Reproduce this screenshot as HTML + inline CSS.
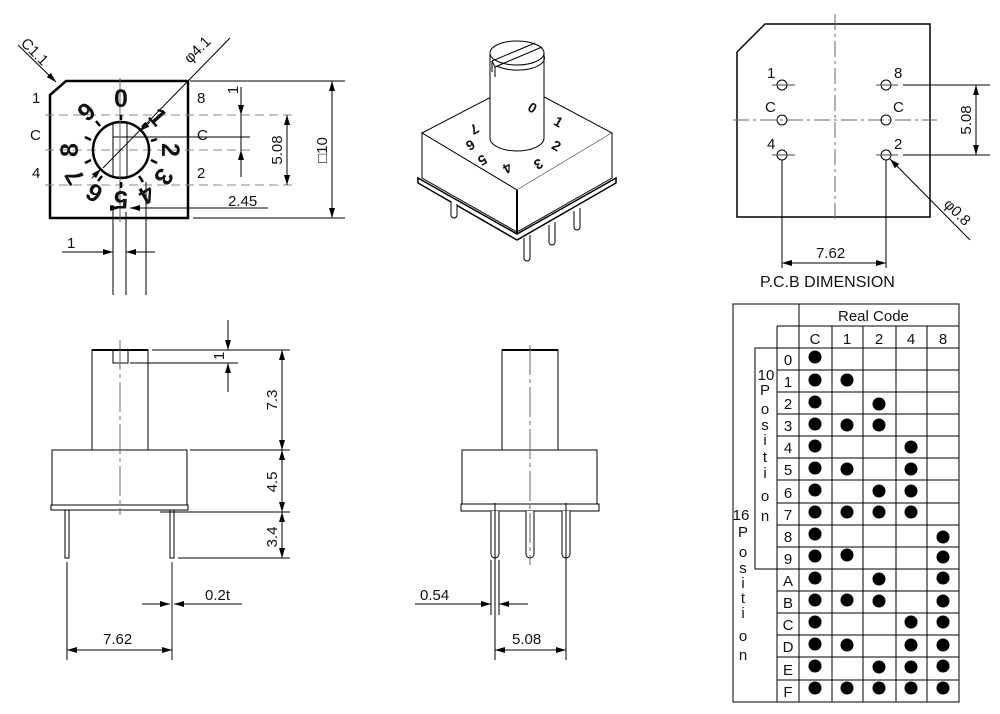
<!DOCTYPE html>
<html><head><meta charset="utf-8"><style>
html,body{margin:0;padding:0;background:#fff}
svg{display:block}
text{font-family:"Liberation Sans",sans-serif;fill:#111}
</style></head><body>
<svg width="1000" height="714" viewBox="0 0 1000 714" xmlns="http://www.w3.org/2000/svg">
<defs>
<marker id="a" viewBox="0 0 10 6" refX="10" refY="3" markerWidth="10" markerHeight="6" orient="auto-start-reverse" markerUnits="userSpaceOnUse"><path d="M0,0 L10,3 L0,6z" fill="#000"/></marker>
</defs>
<g fill="none" stroke="#000" stroke-width="1">
<!-- TOP VIEW -->
<path d="M66,81 L188,81 L188,218 L50,218 L50,95 Z" stroke-width="2.5"/>
<g stroke="#888" stroke-dasharray="9,5"><line x1="45" y1="115" x2="296" y2="115"/><line x1="45" y1="150" x2="250" y2="150"/><line x1="45" y1="185" x2="296" y2="185"/></g>
<line x1="127" y1="137" x2="250" y2="137"/>
<circle cx="121" cy="150" r="28" stroke-width="2.5"/>
<rect x="113" y="123" width="14" height="54"/>
<line x1="113" y1="137" x2="127" y2="137"/>
<line x1="120" y1="78" x2="120" y2="222" stroke="#666"/>
<line x1="230" y1="38" x2="103" y2="168"/>
<line x1="150" y1="122" x2="140" y2="131" marker-end="url(#a)"/>
<line x1="92" y1="178" x2="101" y2="169" marker-end="url(#a)"/>
<line x1="18" y1="45" x2="56" y2="82" marker-end="url(#a)"/>
<g stroke-width="2.5">
<line x1="121" y1="115" x2="121" y2="120"/><line x1="142" y1="127" x2="146" y2="123"/><line x1="151" y1="141" x2="157" y2="139"/><line x1="151" y1="160" x2="157" y2="163"/><line x1="139" y1="176" x2="143" y2="182"/><line x1="121" y1="182" x2="121" y2="188"/><line x1="102" y1="176" x2="98" y2="181"/><line x1="91" y1="160" x2="85" y2="163"/><line x1="91" y1="140" x2="85" y2="137"/><line x1="100" y1="126" x2="96" y2="121"/>
</g>
<line x1="190" y1="81" x2="345" y2="81"/><line x1="193" y1="218" x2="345" y2="218"/>
<line x1="332" y1="81" x2="332" y2="218" marker-start="url(#a)" marker-end="url(#a)"/>
<line x1="287" y1="115" x2="287" y2="185" marker-start="url(#a)" marker-end="url(#a)"/>
<line x1="241" y1="87" x2="241" y2="115" marker-end="url(#a)"/>
<line x1="241" y1="177" x2="241" y2="150" marker-end="url(#a)"/>
<line x1="241" y1="115" x2="241" y2="150"/>
<line x1="146" y1="208" x2="268" y2="208"/>
<line x1="110" y1="208" x2="120" y2="208" marker-end="url(#a)"/>
<line x1="130" y1="208" x2="146" y2="208" marker-start="url(#a)"/>
<line x1="113" y1="205" x2="113" y2="295"/><line x1="126" y1="212" x2="126" y2="295"/><line x1="146" y1="182" x2="146" y2="295"/>
<line x1="62" y1="252" x2="113" y2="252" marker-end="url(#a)"/>
<line x1="155" y1="252" x2="126" y2="252" marker-end="url(#a)"/>

<!-- 3D VIEW -->
<path d="M422,133 L518,83 L612,133 L517,190 Z" fill="#fff"/>
<path d="M422,133 L422,178 L517,232 L517,190 Z" fill="#fff"/>
<path d="M612,133 L612,178 L517,232 L517,190" fill="#fff"/>
<path d="M418,178 L517,234 L616,178 L616,183 L517,240 L418,183 Z" fill="#fff" stroke-width="1.5"/>
<line x1="517" y1="190" x2="517" y2="234" stroke-width="2"/>
<g fill="#fff"><path d="M451,201 v14 a3,3 0 0 0 6,0 v-11"/><path d="M524,238 v20 a3,3 0 0 0 6,0 v-23"/><path d="M549,225 v17 a3,3 0 0 0 6,0 v-20"/><path d="M574,211 v16 a3,3 0 0 0 6,0 v-19"/></g>
<path d="M490,53 L490,138 A27,13 0 0 0 544,138 L544,53" fill="#fff"/>
<ellipse cx="517" cy="53" rx="27" ry="12" fill="#fff"/>
<path d="M492,61 L535,43 M495,67 L542,47 M492,61 L495,67 M495,67 L495,77 M492,61 L492,72" />
<path d="M497,66 A27,12 0 0 0 544,56"/>

<!-- PCB VIEW -->
<path d="M765,24 L930,24 L930,217 L737,217 L737,52 Z" stroke-width="1.5"/>
<line x1="835" y1="14" x2="835" y2="222" stroke="#666" stroke-dasharray="16,4,3,4"/>
<line x1="733" y1="120" x2="937" y2="120" stroke="#666" stroke-dasharray="16,4,3,4"/>
<g><circle cx="782" cy="85" r="5"/><circle cx="782" cy="120" r="5"/><circle cx="782" cy="155" r="5"/><circle cx="886" cy="85" r="5"/><circle cx="886" cy="120" r="5"/><circle cx="886" cy="155" r="5"/></g>
<g stroke="#444"><line x1="772" y1="85" x2="795" y2="85"/><line x1="772" y1="155" x2="795" y2="155"/><line x1="876" y1="85" x2="898" y2="85"/><line x1="876" y1="155" x2="898" y2="155"/></g>
<line x1="903" y1="85" x2="990" y2="85"/><line x1="903" y1="155" x2="990" y2="155"/>
<line x1="976" y1="85" x2="976" y2="155" marker-start="url(#a)" marker-end="url(#a)"/>
<line x1="970" y1="240" x2="890" y2="159" marker-end="url(#a)"/>
<line x1="782" y1="160" x2="782" y2="268"/><line x1="886" y1="160" x2="886" y2="268"/>
<line x1="782" y1="263" x2="886" y2="263" marker-start="url(#a)" marker-end="url(#a)"/>

<!-- SIDE VIEW LEFT -->
<path d="M92,450 L92,350 L113,350 L113,363 L128,363 L128,350 L148,350 L148,450" fill="#fff"/>
<line x1="92" y1="350" x2="148" y2="350" stroke-width="2"/>
<rect x="52" y="450" width="135" height="55"/>
<rect x="51" y="505" width="137" height="5"/>
<rect x="65" y="510" width="4" height="48"/><rect x="170" y="510" width="4" height="48"/>
<line x1="120" y1="340" x2="120" y2="515" stroke="#666" stroke-dasharray="30,4,4,4"/>
<line x1="152" y1="350" x2="290" y2="350"/><line x1="190" y1="450" x2="290" y2="450"/><line x1="160" y1="512" x2="290" y2="512"/><line x1="178" y1="558" x2="290" y2="558"/>
<line x1="130" y1="363" x2="238" y2="363"/>
<line x1="282" y1="350" x2="282" y2="450" marker-start="url(#a)" marker-end="url(#a)"/>
<line x1="282" y1="450" x2="282" y2="512" marker-start="url(#a)" marker-end="url(#a)"/>
<line x1="282" y1="512" x2="282" y2="558" marker-start="url(#a)" marker-end="url(#a)"/>
<line x1="228" y1="320" x2="228" y2="350" marker-end="url(#a)"/>
<line x1="228" y1="392" x2="228" y2="363" marker-end="url(#a)"/>
<line x1="67" y1="562" x2="67" y2="660"/><line x1="172" y1="562" x2="172" y2="660" stroke="#888" stroke-width="2"/>
<line x1="67" y1="650" x2="172" y2="650" marker-start="url(#a)" marker-end="url(#a)"/>
<line x1="142" y1="604" x2="170" y2="604" marker-end="url(#a)"/>
<line x1="242" y1="604" x2="174" y2="604" marker-end="url(#a)"/>

<!-- SIDE VIEW MIDDLE -->
<rect x="502" y="350" width="56" height="100"/>
<line x1="502" y1="350" x2="558" y2="350" stroke-width="2"/>
<rect x="462" y="450" width="135" height="54"/>
<rect x="461" y="504" width="138" height="7"/>
<g fill="#fff"><path d="M491,511 v43 a4,4 0 0 0 8,0 v-43"/><path d="M526,511 v43 a4,4 0 0 0 8,0 v-43"/><path d="M562,511 v43 a4,4 0 0 0 8,0 v-43"/></g>
<line x1="530" y1="345" x2="530" y2="565" stroke="#666" stroke-dasharray="30,4,4,4"/>
<line x1="491" y1="560" x2="491" y2="615"/><line x1="499" y1="560" x2="499" y2="615"/>
<line x1="495" y1="503" x2="495" y2="660"/><line x1="566" y1="503" x2="566" y2="660"/>
<line x1="415" y1="604" x2="491" y2="604" marker-end="url(#a)"/>
<line x1="528" y1="604" x2="499" y2="604" marker-end="url(#a)"/>
<line x1="495" y1="650" x2="566" y2="650" marker-start="url(#a)" marker-end="url(#a)"/>

<!-- TABLE -->
<rect x="733" y="304" width="226" height="398"/>
<line x1="799" y1="304" x2="799" y2="702"/>
<line x1="777" y1="326" x2="777" y2="702"/>
<line x1="799" y1="326" x2="959" y2="326"/>
<line x1="777" y1="348" x2="959" y2="348"/>
<line x1="832" y1="326" x2="832" y2="702"/><line x1="863" y1="326" x2="863" y2="702"/><line x1="896" y1="326" x2="896" y2="702"/><line x1="927" y1="326" x2="927" y2="702"/>
<line x1="777" y1="326" x2="799" y2="326"/>
<path d="M777,348 L755,348 L755,569 L777,569"/>
</g>

<!-- TEXT -->
<g font-size="15">
<text x="32" y="103">1</text><text x="30" y="140">C</text><text x="32" y="178">4</text>
<text x="197" y="103">8</text><text x="197" y="140">C</text><text x="197" y="178">2</text>
<text x="228" y="206">2.45</text>
<text x="67" y="248">1</text>
<text transform="translate(20,44) rotate(45)">C1.1</text>
<text transform="translate(190,64) rotate(-45)">φ4.1</text>
<text transform="translate(238,90) rotate(-90)" text-anchor="middle">1</text>
<text transform="translate(282,150) rotate(-90)" text-anchor="middle">5.08</text>
<text transform="translate(327,150) rotate(-90)" text-anchor="middle">□10</text>
</g>
<g font-size="25" font-weight="bold" text-anchor="middle" fill="#111">
<text transform="translate(121,150) rotate(0) translate(0,-52)" y="9">0</text>
<text transform="translate(121,150) rotate(48) translate(0,-50)" y="9">1</text>
<text transform="translate(121,150) rotate(90) translate(0,-50)" y="9">2</text>
<text transform="translate(121,150) rotate(122) translate(0,-51)" y="9">3</text>
<text transform="translate(121,150) rotate(150) translate(0,-52)" y="9">4</text>
<text transform="translate(121,150) rotate(180) translate(0,-50)" y="9">5</text>
<text transform="translate(121,150) rotate(212) translate(0,-51)" y="9">6</text>
<text transform="translate(121,150) rotate(240) translate(0,-54)" y="9">7</text>
<text transform="translate(121,150) rotate(270) translate(0,-52)" y="9">8</text>
<text transform="translate(121,150) rotate(318) translate(0,-52)" y="9">9</text>
</g>
<g font-size="14" font-weight="bold" text-anchor="middle">
<text transform="translate(530,112) rotate(30)">0</text>
<text transform="translate(556,126) rotate(30)">1</text>
<text transform="translate(554,150) rotate(30)">2</text>
<text transform="translate(536,160) rotate(150)">3</text>
<text transform="translate(505,164) rotate(150)">4</text>
<text transform="translate(480,156) rotate(150)">5</text>
<text transform="translate(468,141) rotate(150)">6</text>
<text transform="translate(472,125) rotate(150)">7</text>
</g>
<g font-size="15">
<text x="767" y="78">1</text><text x="765" y="112">C</text><text x="767" y="149">4</text>
<text x="894" y="78">8</text><text x="893" y="112">C</text><text x="894" y="149">2</text>
<text transform="translate(971,120) rotate(-90)" text-anchor="middle">5.08</text>
<text transform="translate(943,205) rotate(45)">φ0.8</text>
<text x="816" y="258">7.62</text>
<text x="760" y="287" font-size="16">P.C.B DIMENSION</text>
<text transform="translate(224,356) rotate(-90)" text-anchor="middle">1</text>
<text transform="translate(277,400) rotate(-90)" text-anchor="middle">7.3</text>
<text transform="translate(277,482) rotate(-90)" text-anchor="middle">4.5</text>
<text transform="translate(277,537) rotate(-90)" text-anchor="middle">3.4</text>
<text x="205" y="600">0.2t</text>
<text x="103" y="644">7.62</text>
<text x="420" y="600">0.54</text>
<text x="512" y="644">5.08</text>
<text x="838" y="321" font-size="15">Real Code</text>
</g>
<g font-size="15" text-anchor="middle">
<text x="815" y="344">C</text><text x="847" y="344">1</text><text x="879" y="344">2</text><text x="911" y="344">4</text><text x="943" y="344">8</text>
<text x="766" y="380">10</text>
<text x="765" y="395">P</text><text x="765" y="414">o</text><text x="765" y="430">s</text><text x="765" y="445">i</text><text x="765" y="462">t</text><text x="765" y="478">i</text><text x="765" y="501">o</text><text x="765" y="521">n</text>
<text x="741" y="520">16</text>
<text x="743" y="537">P</text><text x="743" y="557">o</text><text x="743" y="573">s</text><text x="743" y="588">i</text><text x="743" y="603">t</text><text x="743" y="618">i</text><text x="743" y="641">o</text><text x="743" y="660">n</text>
</g>
<g font-size="15">
<g stroke="#000" stroke-width="1">
<line x1="777" y1="370" x2="959" y2="370"/><line x1="777" y1="392" x2="959" y2="392"/><line x1="777" y1="414" x2="959" y2="414"/><line x1="777" y1="436" x2="959" y2="436"/><line x1="777" y1="458" x2="959" y2="458"/><line x1="777" y1="480" x2="959" y2="480"/><line x1="777" y1="503" x2="959" y2="503"/><line x1="777" y1="525" x2="959" y2="525"/><line x1="777" y1="547" x2="959" y2="547"/><line x1="777" y1="569" x2="959" y2="569"/><line x1="777" y1="591" x2="959" y2="591"/><line x1="777" y1="613" x2="959" y2="613"/><line x1="777" y1="635" x2="959" y2="635"/><line x1="777" y1="657" x2="959" y2="657"/><line x1="777" y1="680" x2="959" y2="680"/>
</g>
<g text-anchor="middle">
<text x="788" y="365">0</text><text x="788" y="387">1</text><text x="788" y="409">2</text><text x="788" y="431">3</text><text x="788" y="453">4</text><text x="788" y="475">5</text><text x="788" y="498">6</text><text x="788" y="520">7</text><text x="788" y="542">8</text><text x="788" y="564">9</text><text x="788" y="586">A</text><text x="788" y="608">B</text><text x="788" y="630">C</text><text x="788" y="652">D</text><text x="788" y="675">E</text><text x="788" y="697">F</text>
</g>
<g fill="#000">
<circle cx="815" cy="357" r="6.5"/>
<circle cx="815" cy="380" r="6.5"/><circle cx="847" cy="380" r="6.5"/>
<circle cx="815" cy="402" r="6.5"/><circle cx="879" cy="404" r="6.5"/>
<circle cx="815" cy="424" r="6.5"/><circle cx="847" cy="425" r="6.5"/><circle cx="879" cy="425" r="6.5"/>
<circle cx="815" cy="446" r="6.5"/><circle cx="911" cy="447" r="6.5"/>
<circle cx="815" cy="468" r="6.5"/><circle cx="847" cy="469" r="6.5"/><circle cx="911" cy="469" r="6.5"/>
<circle cx="815" cy="490" r="6.5"/><circle cx="879" cy="491" r="6.5"/><circle cx="911" cy="491" r="6.5"/>
<circle cx="815" cy="512" r="6.5"/><circle cx="847" cy="512" r="6.5"/><circle cx="879" cy="512" r="6.5"/><circle cx="911" cy="512" r="6.5"/>
<circle cx="815" cy="534" r="6.5"/><circle cx="943" cy="537" r="6.5"/>
<circle cx="815" cy="556" r="6.5"/><circle cx="847" cy="555" r="6.5"/><circle cx="943" cy="557" r="6.5"/>
<circle cx="815" cy="578" r="6.5"/><circle cx="879" cy="579" r="6.5"/><circle cx="943" cy="578" r="6.5"/>
<circle cx="815" cy="600" r="6.5"/><circle cx="847" cy="600" r="6.5"/><circle cx="879" cy="601" r="6.5"/><circle cx="943" cy="601" r="6.5"/>
<circle cx="815" cy="622" r="6.5"/><circle cx="911" cy="622" r="6.5"/><circle cx="943" cy="622" r="6.5"/>
<circle cx="815" cy="644" r="6.5"/><circle cx="847" cy="645" r="6.5"/><circle cx="911" cy="645" r="6.5"/><circle cx="943" cy="645" r="6.5"/>
<circle cx="815" cy="666" r="6.5"/><circle cx="879" cy="667" r="6.5"/><circle cx="911" cy="667" r="6.5"/><circle cx="943" cy="666" r="6.5"/>
<circle cx="815" cy="688" r="6.5"/><circle cx="847" cy="688" r="6.5"/><circle cx="879" cy="688" r="6.5"/><circle cx="911" cy="688" r="6.5"/><circle cx="943" cy="688" r="6.5"/>
</g>
</g>
</svg>
</body></html>
